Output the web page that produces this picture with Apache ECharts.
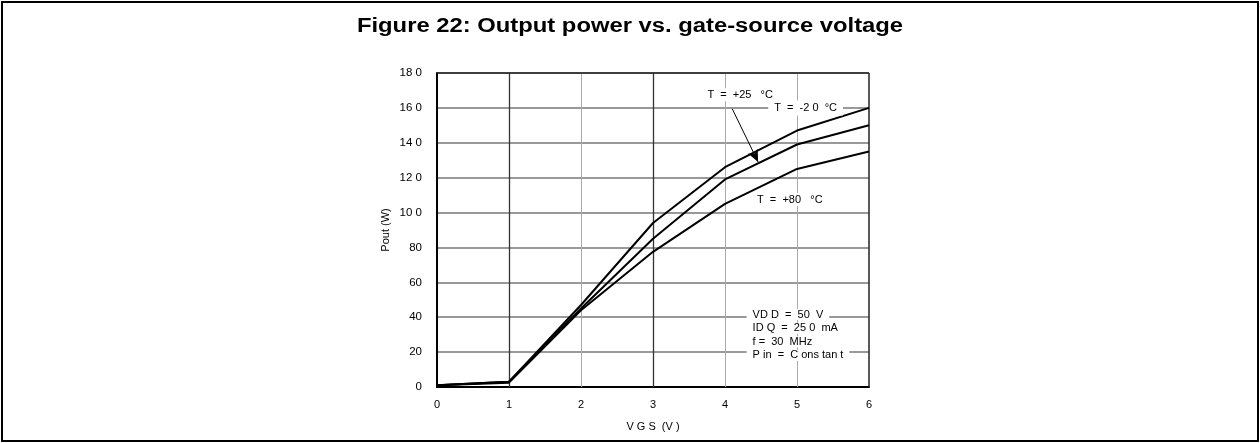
<!DOCTYPE html>
<html>
<head>
<meta charset="utf-8">
<script src="https://cdn.jsdelivr.net/npm/echarts@6/dist/echarts.min.js"></script>
<style>
  html, body { margin: 0; padding: 0; background: #fff; }
  #frame { position: absolute; left: 1px; top: 1px; width: 1254px; height: 437px; border: 2px solid #000; }
  #chart { position: absolute; left: 0; top: 0; width: 1260px; height: 443px; }
</style>
</head>
<body>
<div id="frame"></div>
<div id="chart"></div>
<script>
// ── Datos ─────────────────────────────────────────────────────────────────
const VGS      = [0, 1, 2, 3, 4, 5, 6];
const P_M20    = [1, 3, 47, 94, 126, 147, 160];     // T = -20 °C
const P_P25    = [1, 3, 45, 85, 119, 139, 150];     // T = +25 °C
const P_P80    = [1, 2.5, 44, 77.5, 105, 125, 135]; // T = +80 °C
const Y_TICKS  = ['0', '20', '40', '60', '80', '10 0', '12 0', '14 0', '16 0', '18 0'];
const X_TICKS  = ['0', '1', '2', '3', '4', '5', '6'];
const COND_TXT = ['VD D  =  50  V', 'ID Q  =  25 0  mA', 'f =  30  MHz', 'P in  =  C ons tan t'];
const TITLE    = 'Figure 22: Output power vs. gate-source voltage';

const FONT = 'Liberation Sans, Arial, sans-serif';
const el = document.getElementById('chart');
const chart = echarts.init(el, null, { renderer: 'canvas' });

const pair = (ys) => VGS.map((v, i) => [v, ys[i]]);

// rejilla vertical: 1 y 3 V más oscuras; marco superior/derecho negro
const dark = (v) => v === 1 || v === 3;
const vGrid = [1, 2, 3, 4, 5].map(v => ({
  xAxis: v,
  lineStyle: { color: dark(v) ? '#333' : '#aaa', width: dark(v) ? 1.3 : 1, type: 'solid' }
}));
const frameLines = [
  { xAxis: 6, lineStyle: { color: '#222', width: 1.5, type: 'solid' } },
  { yAxis: 180, lineStyle: { color: '#222', width: 1.5, type: 'solid' } },
];

const curve = (name, ys, extra) => Object.assign({
  name, type: 'line', data: pair(ys), symbol: 'none',
  lineStyle: { color: '#000', width: 2 }, z: 5, silent: true,
}, extra || {});

chart.setOption({
  animation: false,
  textStyle: { fontFamily: FONT },
  grid: { left: 437, right: 391, top: 73, bottom: 56 },
  xAxis: {
    type: 'value', min: 0, max: 6, interval: 1,
    name: 'V G S  (V )', nameLocation: 'middle', nameGap: 34,
    nameTextStyle: { fontFamily: FONT, fontSize: 11, color: '#000' },
    axisLine: { show: true, lineStyle: { color: '#000', width: 2 } },
    axisTick: { show: false },
    axisLabel: { color: '#000', fontSize: 11, margin: 12, formatter: (v) => X_TICKS[v] },
    splitLine: { show: false },
  },
  yAxis: {
    type: 'value', min: 0, max: 180, interval: 20,
    name: 'Pout (W)', nameLocation: 'middle', nameGap: 46, nameRotate: 90,
    nameTextStyle: { fontFamily: FONT, fontSize: 11, color: '#000' },
    axisLine: { show: true, lineStyle: { color: '#000', width: 2 } },
    axisTick: { show: false },
    axisLabel: { color: '#000', fontSize: 11.5, margin: 15, formatter: (v) => Y_TICKS[v / 20] },
    splitLine: { show: true, lineStyle: { color: '#999', width: 2 } },
  },
  series: [
    curve('T = -20 °C', P_M20, {
      markLine: {
        silent: true, symbol: 'none', label: { show: false }, animation: false,
        data: vGrid.concat(frameLines),
      },
    }),
    curve('T = +25 °C', P_P25, {
      markLine: {
        silent: true, label: { show: false }, animation: false,
        symbol: ['none', 'arrow'], symbolSize: [8, 12],
        lineStyle: { color: '#000', width: 1, type: 'solid' },
        data: [[{ coord: [4.1, 159.5] }, { coord: [4.46, 129] }]],
      },
    }),
    curve('T = +80 °C', P_P80),
  ],
});

// ── Título y anotaciones (posicionadas en coordenadas de datos) ──────────
function place() {
  const px = (x, y) => chart.convertToPixel({ gridIndex: 0 }, [x, y]);
  const txt = (x, y, text, opts) => {
    const p = px(x, y);
    return {
      type: 'text', x: p[0], y: p[1], z: 100,
      style: Object.assign({ text, font: '11px ' + FONT, fill: '#000', backgroundColor: '#fff',
        align: 'left', verticalAlign: 'middle', padding: [1, 4] }, opts || {}),
    };
  };
  const g = [
    {
      type: 'text', x: el.clientWidth / 2, y: 26, scaleX: 1.19, z: 100,
      style: { text: TITLE, font: 'bold 20px ' + FONT, fill: '#000', align: 'center', verticalAlign: 'middle' },
    },
    txt(3.7, 167.5, 'T  =  +25   °C'),
    txt(4.6, 160, 'T  =  -2 0  °C', { padding: [2, 6] }),
    txt(4.9, 107.5, 'T  =  +80   °C', { align: 'center' }),
  ];
  COND_TXT.forEach((t, i) => g.push(txt(4.3, 41.5 - i * 7.8, t, { padding: [0, 6] })));
  chart.setOption({ graphic: g });
}
place();
window.addEventListener('resize', () => { chart.resize(); place(); });
</script>
</body>
</html>
